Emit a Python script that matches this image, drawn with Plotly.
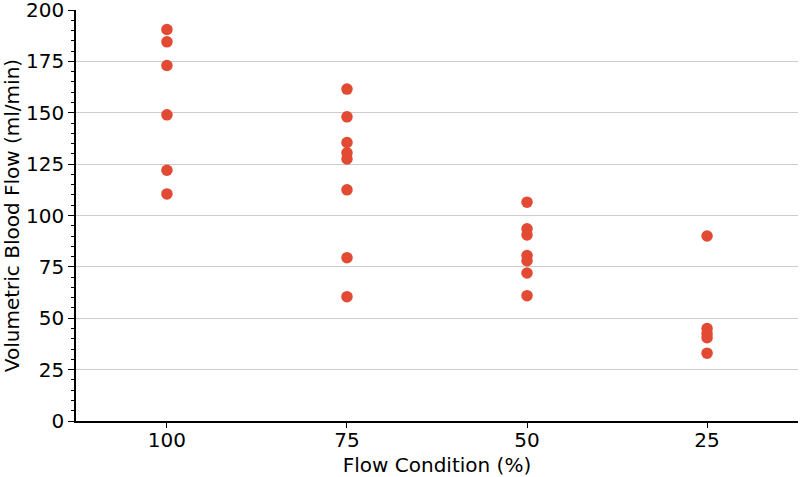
import plotly.graph_objects as go

categories = ["100", "75", "50", "25"]
flow_100 = [190.5, 184.5, 173, 149, 122, 110.5]
flow_75 = [161.5, 148, 135.5, 130.5, 127.5, 112.5, 79.5, 60.5]
flow_50 = [106.5, 93.5, 90.5, 80.5, 78, 72, 61]
flow_25 = [90, 45, 42.5, 40.5, 33]
y_ticks = [0, 25, 50, 75, 100, 125, 150, 175, 200]

groups = [flow_100, flow_75, flow_50, flow_25]
xs, ys = [], []
for cat, vals in zip(categories, groups):
    xs += [cat] * len(vals)
    ys += vals

fig = go.Figure()
fig.add_trace(go.Scatter(
    x=xs, y=ys, mode="markers",
    marker=dict(size=11.5, color="#E24A33", line=dict(width=0)),
    showlegend=False, cliponaxis=False, hoverinfo="x+y",
))
# invisible helper trace so the tick-mark-only axis is drawn
fig.add_trace(go.Scatter(
    x=xs, y=ys, xaxis="x2", mode="markers",
    marker=dict(size=1, opacity=0), showlegend=False, hoverinfo="skip",
))

font = dict(family="DejaVu Sans", size=20, color="black")
fig.update_layout(
    width=800, height=477,
    margin=dict(l=76, r=2, t=10, b=56),
    paper_bgcolor="white", plot_bgcolor="white",
    font=font,
    xaxis2=dict(
        type="category", categoryorder="array", categoryarray=categories,
        range=[-0.505, 3.505], overlaying="x", anchor="y", side="bottom",
        automargin=False, showgrid=False, showline=False, zeroline=False,
        ticks="outside", ticklen=6, tickwidth=1.2, tickcolor="black",
        showticklabels=False,
    ),
)
fig.update_xaxes(
    selector=dict(anchor="y", overlaying=None),
)
fig.layout.xaxis.update(
    type="category", categoryorder="array", categoryarray=categories,
    range=[-0.505, 3.505], automargin=False,
    showgrid=False, showline=True, linecolor="black", linewidth=1.5,
    ticks="", ticklen=0,
    tickfont=font, ticklabeloverflow="allow",
    title=dict(text="Flow Condition (%)", standoff=12, font=font),
    zeroline=False,
)
fig.update_yaxes(
    range=[0, 200], tickvals=y_ticks, automargin=False,
    showgrid=True, gridcolor="#cccccc", gridwidth=1.2,
    showline=True, linecolor="black", linewidth=1.5,
    ticks="outside", ticklen=6, tickwidth=1.2, tickcolor="black",
    tickfont=font, ticklabeloverflow="allow",
    minor=dict(dtick=5, ticks="outside", ticklen=3, tickwidth=1, tickcolor="black", showgrid=False),
    title=dict(text="Volumetric Blood Flow (ml/min)", standoff=6, font=font),
    zeroline=False,
)
fig.write_html(
    "out.html",
    config={"displayModeBar": False},
    post_script="document.body.style.margin='0';document.body.style.overflow='hidden';",
)
